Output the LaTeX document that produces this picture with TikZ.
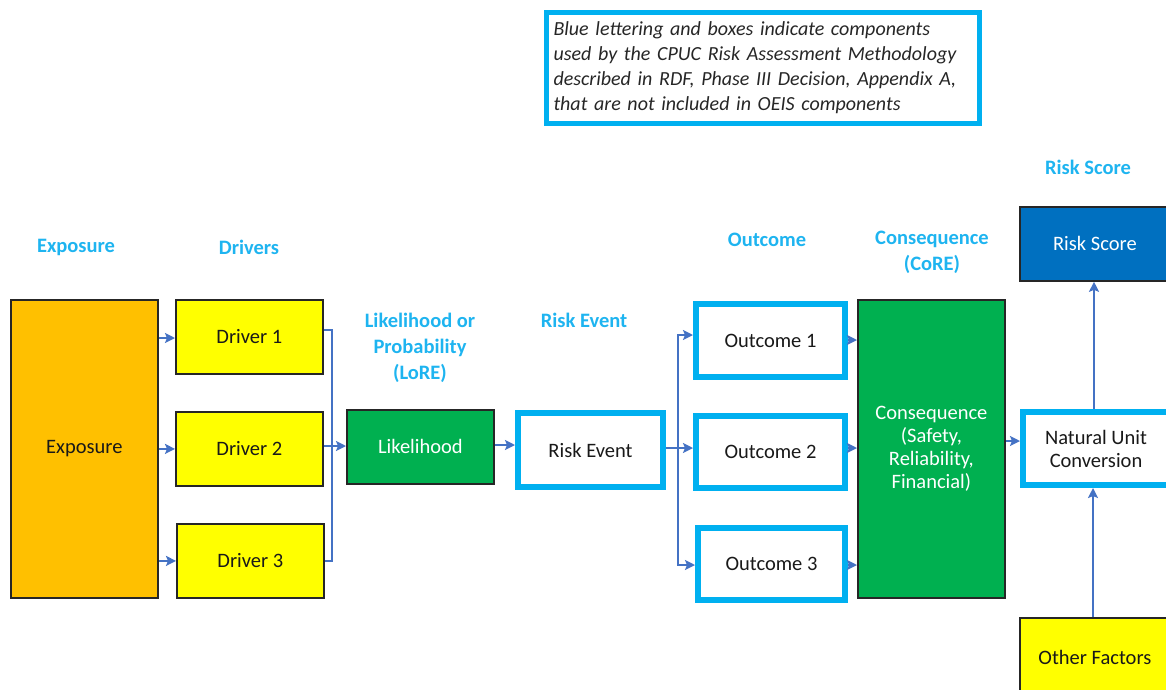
\documentclass[tikz,border=0pt]{standalone}
\usepackage{fontspec}
\setmainfont{Carlito}
\usetikzlibrary{arrows.meta,calc}
\definecolor{cyanedge}{RGB}{0,176,240}
\definecolor{labelblue}{RGB}{30,180,240}
\definecolor{arrowblue}{RGB}{68,114,196}
\definecolor{boxgreen}{RGB}{0,176,80}
\definecolor{boxorange}{RGB}{255,192,0}
\definecolor{boxyellow}{RGB}{255,255,0}
\definecolor{scoreblue}{RGB}{0,112,192}
\definecolor{edgedark}{RGB}{38,38,38}
\tikzset{
  x=1pt, y=1pt,
  every node/.style={font=\fontsize{20.5}{23}\selectfont, inner sep=0pt, align=center},
  plainbox/.style={draw=edgedark, line width=1.8pt, anchor=north west, text=black!90},
  cyanbox/.style={draw=cyanedge, line width=6pt, fill=white, anchor=north west, text=black!90},
  heading/.style={text=labelblue, font=\fontsize{20.5}{26}\selectfont\bfseries},
  link/.style={draw=arrowblue, line width=2.8pt},
  arr/.style={link, -{Stealth[length=10pt,width=10pt,inset=2pt]}},
}
\begin{document}
\begin{tikzpicture}
\useasboundingbox (0,0) rectangle (1166,-689);

% explanatory note
\node[draw=cyanedge, line width=5pt, anchor=north west, minimum width=433, minimum height=111,
      text width=418, align=left, font=\fontsize{20}{25}\selectfont\itshape, text=black!85]
  (note) at (543.5,-9.5)
  {Blue lettering and boxes indicate components\\
   used by the CPUC Risk Assessment Methodology\\
   described in RDF, Phase III Decision, Appendix A,\\
   that are not included in OEIS components};

% column headings
\node[heading] (hexp) at (76,-247) {Exposure};
\node[heading] (hdrv) at (249,-247) {Drivers};
\node[heading] (hlik) at (420,-348) {Likelihood or\\Probability\\(LoRE)};
\node[heading] (hrev) at (584,-320) {Risk Event};
\node[heading] (hout) at (767,-240) {Outcome};
\node[heading] (hcon) at (932,-252) {Consequence\\(CoRE)};
\node[heading] (hrs)  at (1088,-167) {Risk Score};

% boxes
\node[plainbox, fill=boxorange, minimum width=147, minimum height=298] (exp) at (10,-299) {Exposure};
\node[plainbox, fill=boxyellow, minimum width=147, minimum height=74] (d1) at (175,-299) {Driver 1};
\node[plainbox, fill=boxyellow, minimum width=147, minimum height=74] (d2) at (175,-411) {Driver 2};
\node[plainbox, fill=boxyellow, minimum width=147, minimum height=74] (d3) at (176,-523) {Driver 3};
\node[plainbox, fill=boxgreen, text=white, minimum width=147, minimum height=74] (lik) at (346,-409) {Likelihood};
\node[cyanbox, minimum width=145, minimum height=74] (rev) at (515,-410) {Risk Event};
\node[cyanbox, minimum width=149, minimum height=73] (o1) at (693,-301) {Outcome 1};
\node[cyanbox, minimum width=149, minimum height=72] (o2) at (693,-413) {Outcome 2};
\node[cyanbox, minimum width=147, minimum height=72] (o3) at (695,-525) {Outcome 3};
\node[plainbox, fill=boxgreen, text=white, minimum width=147, minimum height=298] (cons) at (857,-299)
  {Consequence\\(Safety,\\Reliability,\\Financial)};
\node[cyanbox, minimum width=146, minimum height=73] (nuc) at (1020,-409) {Natural Unit\\Conversion};
\node[plainbox, fill=scoreblue, text=white, minimum width=150, minimum height=74] (rs) at (1019,-206) {Risk Score};
\node[plainbox, fill=boxyellow, minimum width=150, minimum height=80] (of) at (1019,-617) {Other Factors};

% exposure feeds each driver
\draw[arr] (exp.east |- 0,-338) -- (d1.west |- 0,-338);
\draw[arr] (exp.east |- d2.west) -- (d2.west);
\draw[arr] (exp.east |- d3.west) -- (d3.west);

% drivers merge into likelihood
\coordinate (bus) at (332,-446);
\draw[link] (d1.east |- 0,-330) -| (bus);
\draw[link] (d3.east) -| (bus);
\draw[arr] (d2.east |- bus) -- (lik.west |- bus);
\draw[arr] (lik.east |- 0,-445) -- (rev.west |- 0,-445);

% risk event branches to outcomes
\coordinate (split) at (678,-448);
\draw[link] (rev.east |- split) -- (split);
\draw[arr] (split) -- (o2.west |- split);
\draw[arr] (split) |- (o1.west |- 0,-335);
\draw[arr] (split) |- (o3.west |- 0,-565);

% outcomes into consequence
\draw[arr] (o1.east |- 0,-340) -- (cons.west |- 0,-340);
\draw[arr] (o2.east |- 0,-448) -- (cons.west |- 0,-448);
\draw[arr] (o3.east |- 0,-565) -- (cons.west |- 0,-565);

% consequence to conversion to score
\draw[arr] (cons.east |- 0,-441) -- (nuc.west |- 0,-441);
\draw[arr] (nuc.north -| 1094,0) -- (rs.south -| 1094,0);
\draw[arr] (of.north -| 1093,0) -- (nuc.south -| 1093,0);
\end{tikzpicture}
\end{document}
